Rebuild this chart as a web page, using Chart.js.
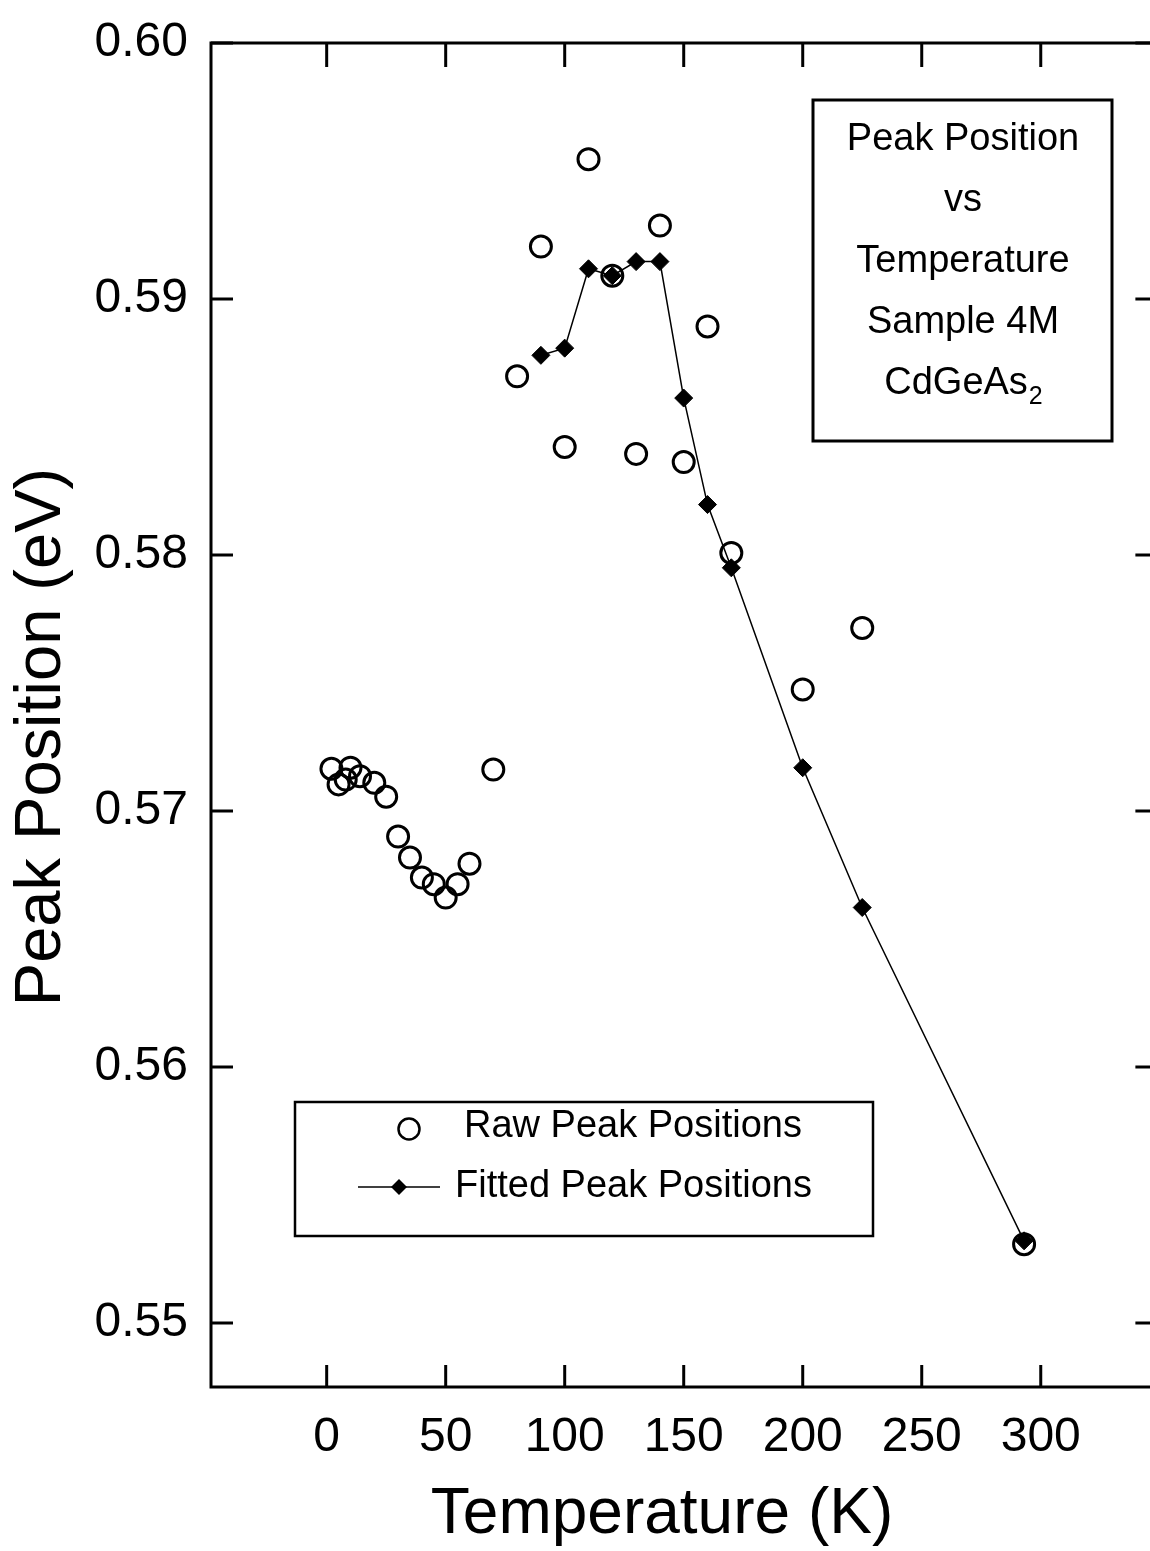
<!DOCTYPE html>
<html>
<head>
<meta charset="utf-8">
<script src="https://cdn.jsdelivr.net/npm/chart.js@4.4.0/dist/chart.umd.min.js"></script>
<style>
  html, body { margin: 0; padding: 0; background: #fff; overflow: hidden; }
  canvas { display: block; }
</style>
</head>
<body>
<canvas id="peak-chart" width="1150" height="1551"></canvas>
<script>
// raw peak positions (open circles)
const rawTemps = [2, 5, 8, 10, 14, 20, 25, 30, 35, 40, 45, 50, 55, 60, 70, 80, 90, 100, 110, 120, 130, 140, 150, 160, 170, 200, 225, 293];
const rawPeaks = [0.57165, 0.57104, 0.57123, 0.57169, 0.57136, 0.57110, 0.57056, 0.56900, 0.56818, 0.56740, 0.56714, 0.56662, 0.56714, 0.56794,
                  0.57162, 0.58698, 0.59205, 0.58422, 0.59546, 0.59091, 0.58395, 0.59287, 0.58363, 0.58893, 0.58008, 0.57475, 0.57715, 0.55308];

// fitted peak positions (diamonds + line)
const fitTemps = [90, 100, 110, 120, 130, 140, 150, 160, 170, 200, 225, 293];
const fitPeaks = [0.58780, 0.58808, 0.59118, 0.59091, 0.59146, 0.59146, 0.58613, 0.58197, 0.57950, 0.57169, 0.56623, 0.55321];

const xTicks = [0, 50, 100, 150, 200, 250, 300];
const yTicks = [0.55, 0.56, 0.57, 0.58, 0.59, 0.60];
const xAxisEnd = 349; // right axis sits just past the picture edge

const boxLines = ['Peak Position', 'vs', 'Temperature', 'Sample 4M'];
const legendLabels = ['Raw Peak Positions', 'Fitted Peak Positions'];

const FONT = '"Liberation Sans", Arial, sans-serif';

function toPoints(xs, ys) {
  return xs.map((t, i) => ({ x: t, y: ys[i] }));
}

function line(ctx, x1, y1, x2, y2) {
  ctx.beginPath();
  ctx.moveTo(x1, y1);
  ctx.lineTo(x2, y2);
  ctx.stroke();
}

function diamond(ctx, cx, cy, r) {
  ctx.beginPath();
  ctx.moveTo(cx, cy - r);
  ctx.lineTo(cx + r, cy);
  ctx.lineTo(cx, cy + r);
  ctx.lineTo(cx - r, cy);
  ctx.closePath();
  ctx.fill();
}

// frame with inward ticks, axis titles, text box and legend
const framePlugin = {
  id: 'frame',
  afterDraw(chart) {
    const ctx = chart.ctx;
    const a = chart.chartArea;
    const x = chart.scales.x, y = chart.scales.y;
    const right = x.getPixelForValue(xAxisEnd);
    ctx.save();
    ctx.strokeStyle = '#000';
    ctx.fillStyle = '#000';
    ctx.lineWidth = 3;
    ctx.strokeRect(a.left, a.top, right - a.left, a.bottom - a.top);

    xTicks.forEach(v => {
      const px = x.getPixelForValue(v);
      line(ctx, px, a.bottom, px, a.bottom - 22);
      line(ctx, px, a.top, px, a.top + 24);
    });
    yTicks.forEach(v => {
      const py = y.getPixelForValue(v);
      line(ctx, a.left, py, a.left + 22, py);
      line(ctx, right, py, right - 22, py);
    });

    // axis titles
    ctx.textAlign = 'center';
    ctx.textBaseline = 'middle';
    ctx.font = '64px ' + FONT;
    ctx.fillText('Temperature (K)', 662, 1515);
    ctx.save();
    ctx.translate(42, 737);
    ctx.rotate(-Math.PI / 2);
    ctx.font = '65px ' + FONT;
    ctx.fillText('Peak Position (eV)', 0, 0);
    ctx.restore();

    // text box
    ctx.lineWidth = 3;
    ctx.strokeRect(813, 100, 299, 341);
    ctx.font = '38px ' + FONT;
    boxLines.forEach((s, i) => ctx.fillText(s, 963, 140 + i * 61));
    ctx.textAlign = 'left';
    const w1 = ctx.measureText('CdGeAs').width;
    ctx.font = '25px ' + FONT;
    const w2 = ctx.measureText('2').width;
    const sx = 963 - (w1 + w2) / 2;
    ctx.font = '38px ' + FONT;
    ctx.fillText('CdGeAs', sx, 384);
    ctx.font = '25px ' + FONT;
    ctx.fillText('2', sx + w1 + 1, 397);

    // legend
    ctx.lineWidth = 2.5;
    ctx.strokeRect(295, 1102, 578, 134);
    ctx.beginPath();
    ctx.arc(409, 1129, 10.5, 0, Math.PI * 2);
    ctx.stroke();
    ctx.lineWidth = 1.5;
    line(ctx, 358, 1187, 440, 1187);
    diamond(ctx, 399, 1187, 8);
    ctx.font = '38px ' + FONT;
    ctx.fillText(legendLabels[0], 464, 1127);
    ctx.fillText(legendLabels[1], 455, 1187);
    ctx.restore();
  }
};

const ctx = document.getElementById('peak-chart').getContext('2d');

new Chart(ctx, {
  type: 'scatter',
  data: {
    datasets: [{
      label: legendLabels[0],
      data: toPoints(rawTemps, rawPeaks),
      showLine: false,
      pointStyle: 'circle',
      pointRadius: 10.5,
      pointBorderWidth: 3,
      borderColor: '#000',
      backgroundColor: 'rgba(0,0,0,0)'
    }, {
      label: legendLabels[1],
      data: toPoints(fitTemps, fitPeaks),
      showLine: true,
      borderColor: '#000',
      borderWidth: 1.5,
      pointStyle: 'rectRot',
      pointRadius: 9,
      pointBorderWidth: 1,
      pointBackgroundColor: '#000',
      pointBorderColor: '#000'
    }]
  },
  options: {
    responsive: false,
    animation: false,
    clip: false,
    layout: { autoPadding: false, padding: { top: 43, right: 0, left: 0, bottom: 0 } },
    plugins: { legend: { display: false }, tooltip: { enabled: false } },
    scales: {
      x: {
        type: 'linear',
        min: -48.6,
        max: 345.9,
        grid: { display: false, drawTicks: false },
        border: { display: false },
        afterBuildTicks: s => { s.ticks = xTicks.map(v => ({ value: v })); },
        afterFit: s => { s.height = 164; s.paddingLeft = 0; s.paddingRight = 0; },
        ticks: { color: '#000', padding: 22, maxRotation: 0, font: { family: FONT, size: 48 } }
      },
      y: {
        type: 'linear',
        min: 0.5475,
        max: 0.60,
        grid: { display: false, drawTicks: false },
        border: { display: false },
        afterBuildTicks: s => { s.ticks = yTicks.map(v => ({ value: v })); },
        afterFit: s => { s.width = 211; s.paddingTop = 0; s.paddingBottom = 0; },
        ticks: { color: '#000', padding: 23, font: { family: FONT, size: 48 }, callback: v => v.toFixed(2) }
      }
    }
  },
  plugins: [framePlugin]
});
</script>
</body>
</html>
